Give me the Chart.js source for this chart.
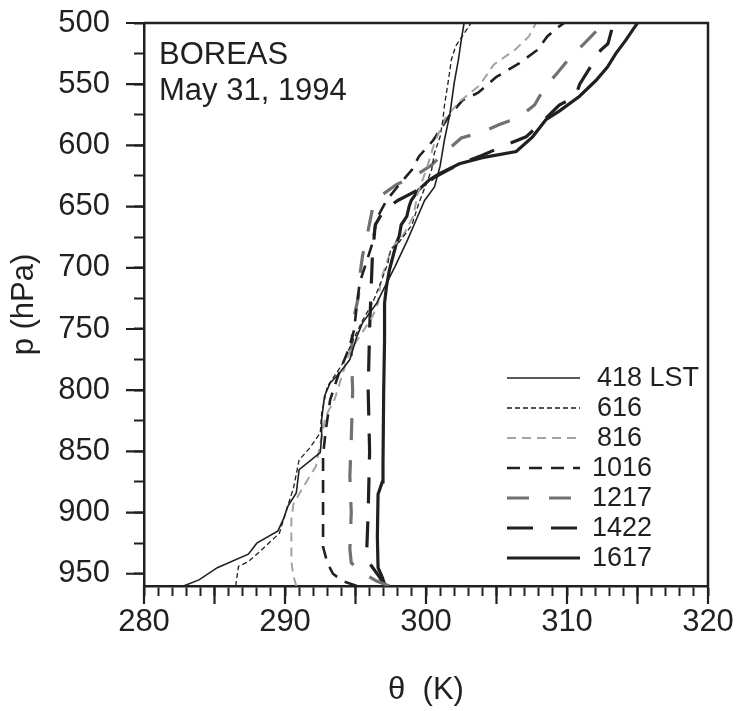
<!DOCTYPE html>
<html>
<head>
<meta charset="utf-8">
<script src="https://cdn.jsdelivr.net/npm/chart.js@4.4.1/dist/chart.umd.min.js"></script>
<style>
  html, body { margin: 0; padding: 0; background: #fff; }
  #wrap { width: 739px; height: 711px; position: relative; }
</style>
</head>
<body>
<div id="wrap"><canvas id="chart"></canvas></div>
<script>
// soundings, theta (K) against pressure (hPa), listed from the ground up
var p418 = [960, 955, 945, 934, 925, 915, 905, 895, 884, 865, 851, 838, 824, 805, 794, 787, 775, 756, 745, 729, 715, 699, 677, 661, 645, 634, 617, 596, 574, 549, 530, 514, 500];
var t418 = [282.8, 283.9, 285.2, 287.4, 288.0, 289.5, 289.9, 290.2, 290.8, 291.0, 292.5, 292.6, 292.6, 292.8, 293.2, 293.8, 294.6, 295.1, 295.5, 296.5, 297.1, 297.8, 298.7, 299.3, 299.9, 300.6, 301.0, 301.3, 301.7, 302.0, 302.3, 302.5, 302.7];

var p616 = [960, 944, 940, 933, 917, 898, 880, 857, 848, 835, 819, 797, 780, 760, 743, 729, 712, 696, 685, 679, 665, 647, 632, 620, 606, 593, 579, 568, 546, 530, 519, 512, 500];
var t616 = [286.5, 286.7, 287.4, 288.1, 289.6, 290.1, 290.6, 291.0, 291.7, 292.5, 292.6, 293.0, 294.0, 294.8, 295.5, 296.2, 296.8, 297.3, 297.5, 298.1, 299.0, 299.5, 300.0, 300.4, 300.6, 301.0, 301.2, 301.3, 301.6, 301.8, 302.1, 302.5, 303.2];

var p816 = [960, 952, 940, 906, 893, 879, 862, 832, 821, 808, 768, 756, 740, 729, 710, 693, 685, 673, 658, 640, 617, 598, 577, 564, 551, 534, 522, 511, 500];
var t816 = [290.8, 290.6, 290.45, 290.45, 290.6, 291.3, 292.2, 292.7, 292.9, 293.5, 294.6, 295.3, 296.2, 296.6, 296.8, 297.3, 297.5, 298.4, 299.1, 299.4, 300.1, 300.6, 301.4, 302.4, 303.8, 304.8, 306.3, 307.3, 307.8];

var p1016 = [960, 956, 950, 941, 928, 880, 853, 832, 808, 787, 767, 751, 730, 712, 698, 680, 660, 645, 632, 620, 609, 596, 575, 563, 557, 544, 533, 522, 511, 504, 500];
var t1016 = [295.1, 294.1, 293.4, 293.0, 292.7, 292.7, 292.7, 292.9, 293.2, 293.8, 294.5, 294.9, 295.1, 295.3, 295.7, 296.2, 296.5, 297.2, 298.1, 299.0, 299.5, 300.5, 301.7, 302.6, 303.7, 305.0, 306.6, 307.9, 308.6, 309.3, 309.8];

var p1217 = [960, 956, 948, 941, 930, 900, 870, 840, 800, 770, 751, 740, 724, 707, 690, 675, 652, 642, 632, 625, 616, 606, 594, 589, 583, 577, 567, 553, 541, 527, 517, 504, 500];
var t1217 = [297.4, 296.5, 295.3, 294.7, 294.6, 294.7, 294.6, 294.7, 294.8, 294.7, 294.8, 294.9, 295.2, 295.3, 295.5, 295.8, 296.2, 296.7, 297.9, 299.2, 300.4, 301.3, 302.5, 304.0, 305.2, 306.6, 307.7, 308.4, 309.3, 310.3, 311.2, 312.3, 312.6];

var p1422 = [960, 951, 940, 930, 900, 850, 800, 750, 720, 690, 665, 653, 645, 636, 626, 615, 608, 600, 593, 579, 567, 560, 550, 537, 522, 517, 500];
var t1422 = [297.1, 296.6, 295.9, 295.8, 295.9, 296.0, 295.9, 296.0, 296.1, 296.2, 296.4, 297.0, 298.0, 299.5, 300.6, 302.4, 304.0, 305.6, 307.1, 308.4, 309.45, 310.6, 310.9, 311.6, 312.4, 312.9, 313.3];

var p1617 = [960, 953, 945, 920, 885, 875, 860, 800, 759, 729, 715, 702, 691, 680, 674, 665, 658, 650, 645, 636, 628, 623, 615, 610, 605, 593, 579, 572, 560, 547, 536, 525, 514, 504, 500];
var t1617 = [297.1, 296.9, 296.6, 296.55, 296.6, 296.9, 296.95, 297.0, 297.06, 297.06, 297.2, 297.4, 297.65, 297.9, 298.1, 298.24, 298.64, 298.8, 298.95, 299.5, 300.25, 300.96, 302.37, 304.0, 306.4, 307.56, 308.5, 309.45, 310.87, 312.05, 312.87, 313.46, 314.17, 314.76, 315.0];

var seriesNames = ['418 LST', '616', '816', '1016', '1217', '1422', '1617'];

// axis ticks
var xMinor = [];
for (var v = 280; v <= 320; v++) xMinor.push(v);
var xMajor = [280, 285, 290, 295, 300, 305, 310, 315, 320];
var xLabels = [280, 290, 300, 310, 320];
var yMinor = [500, 525, 550, 575, 600, 625, 650, 675, 700, 725, 750, 775, 800, 825, 850, 875, 900, 925, 950];
var yLabels = [500, 550, 600, 650, 700, 750, 800, 850, 900, 950];

var ink = '#231f20';
var fontFam = '"Liberation Sans", Arial, Helvetica, sans-serif';

function pts(t, p) {
  var out = [];
  for (var i = 0; i < t.length; i++) out.push({x: t[i], y: p[i]});
  return out;
}

var styles = [
  {color: ink, width: 1.6, dash: []},
  {color: ink, width: 1.3, dash: [5, 3]},
  {color: '#a3a3a3', width: 2, dash: [9, 6]},
  {color: ink, width: 2.6, dash: [13, 9]},
  {color: '#717171', width: 3.2, dash: [22, 20]},
  {color: ink, width: 3.2, dash: [26, 18]},
  {color: ink, width: 3.2, dash: []}
];
var allT = [t418, t616, t816, t1016, t1217, t1422, t1617];
var allP = [p418, p616, p816, p1016, p1217, p1422, p1617];

var datasets = [];
for (var i = 0; i < seriesNames.length; i++) {
  datasets.push({
    label: seriesNames[i],
    data: pts(allT[i], allP[i]),
    showLine: true,
    borderColor: styles[i].color,
    borderWidth: styles[i].width,
    borderDash: styles[i].dash,
    pointRadius: 0,
    fill: false
  });
}

// box round the plot and the long ticks
var frame = {
  id: 'frame',
  afterDraw: function (chart) {
    var c = chart.ctx, a = chart.chartArea;
    var xs = chart.scales.x, ys = chart.scales.y;
    c.save();
    c.strokeStyle = ink;
    c.lineWidth = 2.5;
    c.beginPath();
    c.moveTo(a.left, a.top);
    c.lineTo(a.right, a.top);
    c.lineTo(a.right, a.bottom);
    c.stroke();
    c.lineWidth = 2.2;
    c.beginPath();
    xMajor.forEach(function (v) {
      var px = xs.getPixelForValue(v);
      c.moveTo(px, a.bottom);
      c.lineTo(px, a.bottom + 18);
    });
    yLabels.forEach(function (v) {
      var py = ys.getPixelForValue(v);
      c.moveTo(a.left - 18, py);
      c.lineTo(a.left, py);
    });
    c.stroke();
    c.restore();
  }
};

var notes = {
  id: 'notes',
  afterDraw: function (chart) {
    var c = chart.ctx;
    c.save();
    c.fillStyle = ink;
    c.font = '31px ' + fontFam;
    c.textBaseline = 'alphabetic';
    c.textAlign = 'left';
    c.fillText('BOREAS', 159, 64);
    c.fillText('May 31, 1994', 159, 100);
    c.restore();
  }
};

var legendBox = {
  id: 'legendBox',
  afterDraw: function (chart) {
    var c = chart.ctx;
    c.save();
    c.font = '27px ' + fontFam;
    c.textBaseline = 'middle';
    c.textAlign = 'left';
    chart.data.datasets.forEach(function (ds, i) {
      var y = 378 + i * 30;
      c.strokeStyle = ds.borderColor;
      c.lineWidth = ds.borderWidth;
      c.setLineDash(ds.borderDash);
      c.beginPath();
      c.moveTo(507, y);
      c.lineTo(580, y);
      c.stroke();
      c.setLineDash([]);
      c.fillStyle = ink;
      c.fillText(ds.label, i < 3 ? 597 : 592, y + 1);
    });
    c.restore();
  }
};

new Chart(document.getElementById('chart'), {
  type: 'scatter',
  data: {datasets: datasets},
  options: {
    responsive: true,
    maintainAspectRatio: false,
    animation: false,
    layout: {padding: {top: 23, right: 31, left: 0, bottom: 0}},
    plugins: {legend: {display: false}, tooltip: {enabled: false}},
    scales: {
      x: {
        type: 'linear',
        min: 280,
        max: 320,
        afterBuildTicks: function (s) { s.ticks = xMinor.map(function (v) { return {value: v}; }); },
        afterFit: function (s) { s.height = 125; s.paddingLeft = 0; s.paddingRight = 0; },
        ticks: {
          autoSkip: false,
          maxRotation: 0,
          minRotation: 0,
          padding: 8,
          color: ink,
          font: {size: 31, family: fontFam},
          callback: function (v) { return xLabels.indexOf(v) >= 0 ? String(v) : ''; }
        },
        grid: {drawOnChartArea: false, tickLength: 10, tickWidth: 2, tickColor: ink},
        border: {width: 2.5, color: ink},
        title: {display: true, text: 'θ  (K)', color: ink, font: {size: 31, family: fontFam}, padding: {top: 0, bottom: 2}}
      },
      y: {
        type: 'linear',
        reverse: true,
        min: 500,
        max: 960,
        afterBuildTicks: function (s) { s.ticks = yMinor.map(function (v) { return {value: v}; }); },
        afterFit: function (s) { s.width = 144; s.paddingTop = 0; s.paddingBottom = 0; },
        ticks: {
          autoSkip: false,
          padding: 24,
          color: ink,
          font: {size: 31, family: fontFam},
          callback: function (v) { return yLabels.indexOf(v) >= 0 ? String(v) : ''; }
        },
        grid: {drawOnChartArea: false, tickLength: 10, tickWidth: 2, tickColor: ink},
        border: {width: 2.5, color: ink},
        title: {display: true, text: 'p (hPa)', color: ink, font: {size: 31, family: fontFam}, padding: {top: 6, bottom: 0}}
      }
    }
  },
  plugins: [frame, notes, legendBox]
});
</script>
</body>
</html>
